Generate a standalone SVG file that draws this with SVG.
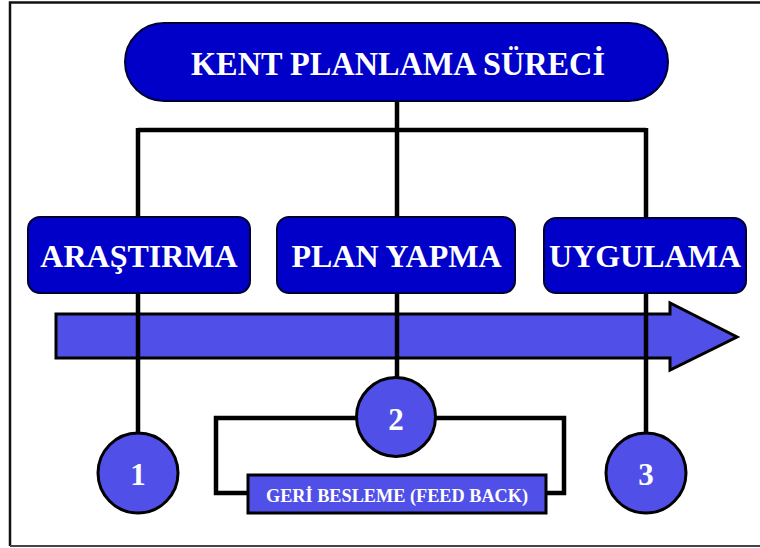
<svg xmlns="http://www.w3.org/2000/svg" width="760" height="548" viewBox="0 0 760 548">
<style>
.dark{fill:#0000c8;stroke:#000033;stroke-width:2}
.light{fill:#5050e8;stroke:#000;stroke-width:3}
.ln{fill:none;stroke:#000;stroke-width:4.5}
.t{font-family:"Liberation Serif","Times New Roman",serif;font-weight:bold;fill:#fff;text-anchor:middle}
</style>
<rect width="760" height="548" fill="#fff"/>
<path d="M760,2.5 H10 V546" fill="none" stroke="#111" stroke-width="2.5"/>
<path d="M10,546 H760" fill="none" stroke="#444" stroke-width="2"/>
<g id="arrow">
<polygon class="light" stroke-width="2.5" points="56,314 670,314 670,303 737,337 670,370 670,358 56,358"/>
</g>
<g id="connectors">
<path class="ln" d="M397,100 V380"/>
<path class="ln" d="M138,130 H646"/>
<path class="ln" d="M138,128 V434"/>
<path class="ln" d="M646,128 V434"/>
<path class="ln" d="M250,493 H216 V418 H564 V493 H546"/>
</g>
<g id="title">
<rect class="dark" x="125" y="23" width="543" height="78" rx="39"/>
<text class="t" x="398" y="75" font-size="33" textLength="414" lengthAdjust="spacingAndGlyphs">KENT PLANLAMA SÜRECİ</text>
</g>
<g id="arastirma">
<rect class="dark" x="28" y="217" width="222" height="76" rx="12"/>
<text class="t" x="139" y="266.5" font-size="32">ARAŞTIRMA</text>
</g>
<g id="planyapma">
<rect class="dark" x="277" y="217" width="238" height="76" rx="12"/>
<text class="t" x="396.5" y="266.5" font-size="32">PLAN YAPMA</text>
</g>
<g id="uygulama">
<rect class="dark" x="544" y="218" width="202" height="75" rx="12"/>
<text class="t" x="645" y="266.5" font-size="32">UYGULAMA</text>
</g>
<g id="c1">
<circle class="light" cx="138" cy="473" r="40"/>
<text class="t" x="138" y="485" font-size="31">1</text>
</g>
<g id="c2">
<circle class="light" cx="396" cy="417" r="39.5"/>
<text class="t" x="396" y="430" font-size="31">2</text>
</g>
<g id="c3">
<circle class="light" cx="646" cy="473" r="40"/>
<text class="t" x="646" y="485" font-size="31">3</text>
</g>
<g id="feedback">
<rect class="light" stroke-width="2.5" x="248" y="475" width="298" height="38"/>
<text class="t" x="397" y="502" font-size="18" textLength="262" lengthAdjust="spacingAndGlyphs">GERİ BESLEME (FEED BACK)</text>
</g>
</svg>
